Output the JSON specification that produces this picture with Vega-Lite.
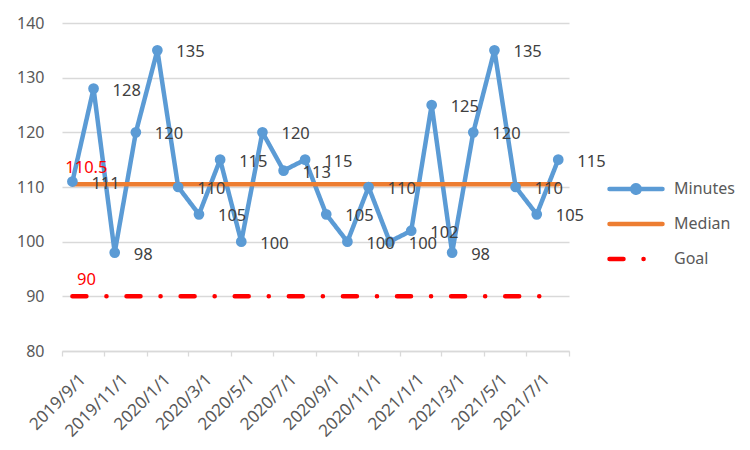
{
  "$schema": "https://vega.github.io/schema/vega-lite/v6.json",
  "width": 507,
  "height": 328,
  "autosize": {"type": "none"},
  "padding": {"left": 62, "top": 23, "right": 181, "bottom": 99},
  "background": "white",
  "config": {"view": {"stroke": null}, "font": "Noto Sans"},
  "data": {
    "values": [
      {"date": "2019/09/01", "Minutes": 111, "Median": 110.5, "Goal": 90},
      {"date": "2019/10/01", "Minutes": 128, "Median": 110.5, "Goal": 90},
      {"date": "2019/11/01", "Minutes": 98, "Median": 110.5, "Goal": 90},
      {"date": "2019/12/01", "Minutes": 120, "Median": 110.5, "Goal": 90},
      {"date": "2020/01/01", "Minutes": 135, "Median": 110.5, "Goal": 90},
      {"date": "2020/02/01", "Minutes": 110, "Median": 110.5, "Goal": 90},
      {"date": "2020/03/01", "Minutes": 105, "Median": 110.5, "Goal": 90},
      {"date": "2020/04/01", "Minutes": 115, "Median": 110.5, "Goal": 90},
      {"date": "2020/05/01", "Minutes": 100, "Median": 110.5, "Goal": 90},
      {"date": "2020/06/01", "Minutes": 120, "Median": 110.5, "Goal": 90},
      {"date": "2020/07/01", "Minutes": 113, "Median": 110.5, "Goal": 90},
      {"date": "2020/08/01", "Minutes": 115, "Median": 110.5, "Goal": 90},
      {"date": "2020/09/01", "Minutes": 105, "Median": 110.5, "Goal": 90},
      {"date": "2020/10/01", "Minutes": 100, "Median": 110.5, "Goal": 90},
      {"date": "2020/11/01", "Minutes": 110, "Median": 110.5, "Goal": 90},
      {"date": "2020/12/01", "Minutes": 100, "Median": 110.5, "Goal": 90},
      {"date": "2021/01/01", "Minutes": 102, "Median": 110.5, "Goal": 90},
      {"date": "2021/02/01", "Minutes": 125, "Median": 110.5, "Goal": 90},
      {"date": "2021/03/01", "Minutes": 98, "Median": 110.5, "Goal": 90},
      {"date": "2021/04/01", "Minutes": 120, "Median": 110.5, "Goal": 90},
      {"date": "2021/05/01", "Minutes": 135, "Median": 110.5, "Goal": 90},
      {"date": "2021/06/01", "Minutes": 110, "Median": 110.5, "Goal": 90},
      {"date": "2021/07/01", "Minutes": 105, "Median": 110.5, "Goal": 90},
      {"date": "2021/08/01", "Minutes": 115, "Median": 110.5, "Goal": 90}
    ],
    "format": {"parse": {"date": "date"}}
  },
  "transform": [{"fold": ["Minutes", "Median", "Goal"], "as": ["series", "value"]}],
  "encoding": {
    "x": {
      "field": "date",
      "timeUnit": "yearmonth",
      "type": "temporal",
      "bandPosition": 0.5,
      "scale": {"domain": [{"year": 2019, "month": 9, "date": 1}, {"year": 2021, "month": 9, "date": 1}]},
      "axis": {
        "title": null,
        "format": "%Y/%-m/%-d",
        "tickCount": {"interval": "month", "step": 2},
        "labelExpr": "datum.value >= datetime(2021, 8, 1) ? '' : timeFormat(datum.value, '%Y/%-m/%-d')",
        "labelAngle": -45,
        "labelFontSize": 17,
        "labelColor": "#595959",
        "labelOffset": 15,
        "labelPadding": 15,
        "tickSize": 5,
        "tickColor": "#D9D9D9",
        "tickWidth": 1.3,
        "domainColor": "#D9D9D9",
        "domainWidth": 1.5,
        "grid": false,
        "labelOverlap": false,
        "labelFlush": false,
        "labelBound": false
      }
    },
    "y": {
      "field": "value",
      "type": "quantitative",
      "scale": {"domain": [80, 140]},
      "axis": {
        "title": null,
        "values": [80, 90, 100, 110, 120, 130, 140],
        "grid": true,
        "gridColor": "#D9D9D9",
        "gridWidth": 1.3,
        "domain": false,
        "ticks": false,
        "labelFontSize": 16,
        "labelColor": "#595959",
        "labelPadding": 18
      }
    }
  },
  "layer": [
    {
      "mark": {"type": "line", "strokeWidth": 4.5, "strokeCap": "round", "strokeJoin": "round"},
      "encoding": {
        "color": {
          "field": "series",
          "type": "nominal",
          "scale": {"domain": ["Minutes", "Median", "Goal"], "range": ["#5B9BD5", "#ED7D31", "#FF0000"]},
          "legend": {
            "title": null,
            "orient": "none",
            "legendX": 543,
            "legendY": 156,
            "padding": 0,
            "symbolType": "M-1,0H1",
            "symbolSize": 2809,
            "symbolOffset": 2,
            "symbolStrokeWidth": 4.5,
            "clipHeight": 20,
            "rowPadding": 15,
            "labelOffset": 9,
            "labelFontSize": 16,
            "labelColor": "#595959",
            "encoding": {
              "symbols": {
                "shape": {"condition": {"test": "datum.value === 'Minutes'", "value": "M-1,0H1M0.14,0A0.14,0.14 0 1,1 -0.14,0A0.14,0.14 0 1,1 0.14,0"}, "value": "M-1,0H1"},
                "fill": {"condition": {"test": "datum.value === 'Minutes'", "value": "#5B9BD5"}, "value": "transparent"},
                "strokeCap": {"value": "round"}
              }
            }
          }
        },
        "strokeDash": {
          "field": "series",
          "type": "nominal",
          "scale": {"domain": ["Minutes", "Median", "Goal"], "range": [[1, 0], [1, 0], [14, 20, 0.1, 20]]},
          "legend": {
            "title": null,
            "orient": "none",
            "legendX": 543,
            "legendY": 156,
            "padding": 0,
            "symbolType": "M-1,0H1",
            "symbolSize": 2809,
            "symbolOffset": 2,
            "symbolStrokeWidth": 4.5,
            "clipHeight": 20,
            "rowPadding": 15,
            "labelOffset": 9,
            "labelFontSize": 16,
            "labelColor": "#595959",
            "encoding": {
              "symbols": {
                "shape": {"condition": {"test": "datum.value === 'Minutes'", "value": "M-1,0H1M0.14,0A0.14,0.14 0 1,1 -0.14,0A0.14,0.14 0 1,1 0.14,0"}, "value": "M-1,0H1"},
                "fill": {"condition": {"test": "datum.value === 'Minutes'", "value": "#5B9BD5"}, "value": "transparent"},
                "strokeCap": {"value": "round"}
              }
            }
          }
        }
      }
    },
    {
      "transform": [{"filter": "datum.series === 'Minutes'"}],
      "mark": {"type": "point", "filled": true, "size": 115, "opacity": 1, "color": "#5B9BD5"}
    },
    {
      "transform": [{"filter": "datum.series === 'Minutes'"}],
      "mark": {"type": "text", "align": "left", "baseline": "middle", "dx": 19, "dy": 2, "fontSize": 16.5, "color": "#404040"},
      "encoding": {"text": {"field": "value", "type": "quantitative"}}
    },
    {
      "transform": [{"filter": "datum.series !== 'Minutes' && year(datum.date) === 2019 && month(datum.date) === 8"}],
      "mark": {"type": "text", "align": "center", "baseline": "middle", "dx": 14, "dy": -16, "fontSize": 16.5, "color": "#FF0000"},
      "encoding": {"text": {"field": "value", "type": "quantitative"}}
    }
  ]
}
